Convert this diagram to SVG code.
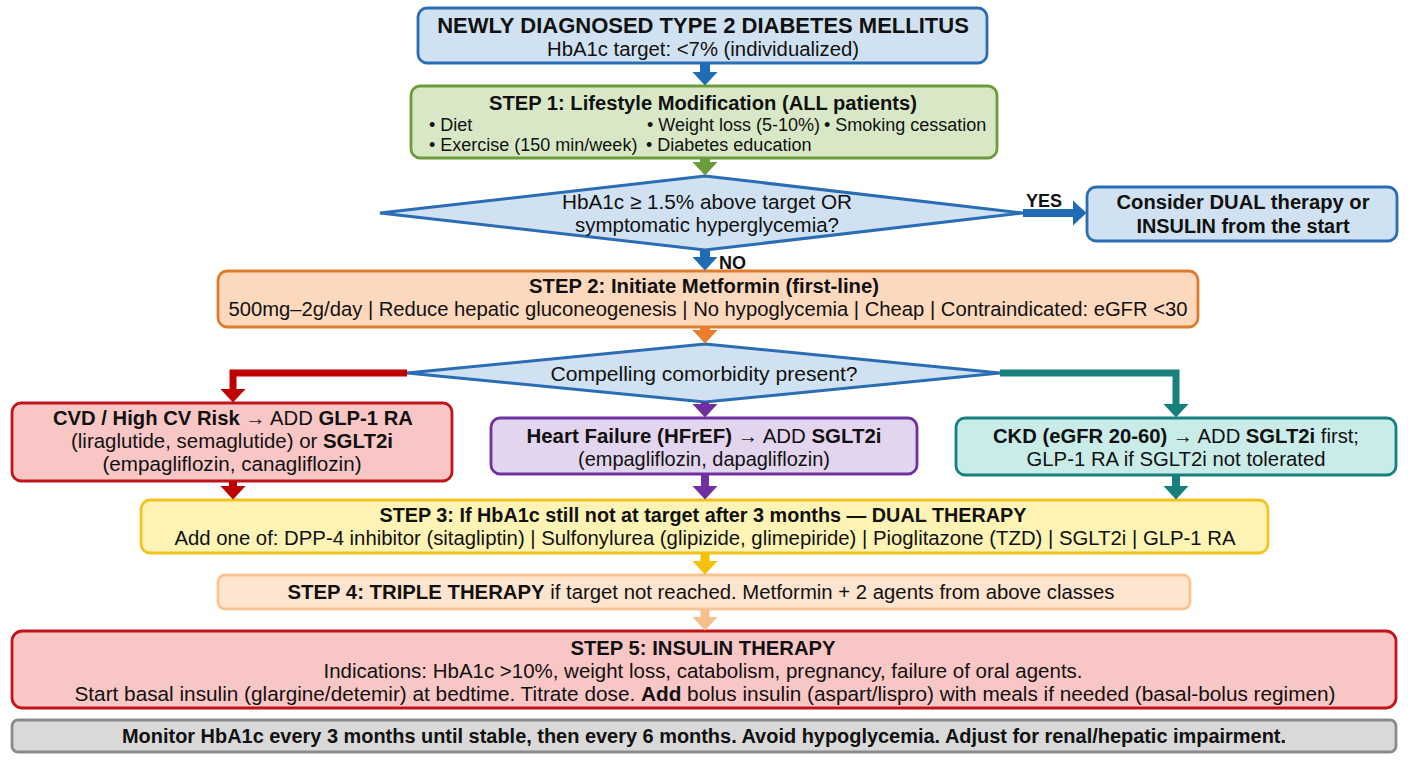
<svg xmlns="http://www.w3.org/2000/svg" width="1408" height="768" viewBox="0 0 1408 768">
<style>
text{font-family:"Liberation Sans",Arial,sans-serif;fill:#111;text-anchor:middle;font-size:20.5px}
.b{font-weight:bold}
.t{font-weight:bold;font-size:20px}
.s{font-size:18px}
.l{text-anchor:start}
.box{stroke-width:2.8}
.blue{fill:#d0e1f2;stroke:#2a6db5}
.green{fill:#d8e8c6;stroke:#6b9b3a}
.orange{fill:#fcd8bd;stroke:#e07a2c}
.red{fill:#f9c6c6;stroke:#c0141b}
.purple{fill:#e3d5ee;stroke:#7030a0}
.teal{fill:#c9ece8;stroke:#17807d}
.yellow{fill:#fdf3b5;stroke:#f2c31c}
.peach{fill:#fde4cf;stroke:#f6c596}
.grey{fill:#d9d9d9;stroke:#8a8a8a}
</style>
<defs>
<marker id="mBlue" markerUnits="userSpaceOnUse" markerWidth="14" markerHeight="26" viewBox="0 0 14 26" refX="0.5" refY="13" orient="auto"><path d="M0,0 L14,13 L0,26 z" fill="#1f6cb5"/></marker>
<marker id="mGreen" markerUnits="userSpaceOnUse" markerWidth="14" markerHeight="26" viewBox="0 0 14 26" refX="0.5" refY="13" orient="auto"><path d="M0,0 L14,13 L0,26 z" fill="#6b9b3a"/></marker>
<marker id="mOrange" markerUnits="userSpaceOnUse" markerWidth="14" markerHeight="26" viewBox="0 0 14 26" refX="0.5" refY="13" orient="auto"><path d="M0,0 L14,13 L0,26 z" fill="#ec7d2c"/></marker>
<marker id="mRed" markerUnits="userSpaceOnUse" markerWidth="14" markerHeight="26" viewBox="0 0 14 26" refX="0.5" refY="13" orient="auto"><path d="M0,0 L14,13 L0,26 z" fill="#c00000"/></marker>
<marker id="mPurple" markerUnits="userSpaceOnUse" markerWidth="14" markerHeight="26" viewBox="0 0 14 26" refX="0.5" refY="13" orient="auto"><path d="M0,0 L14,13 L0,26 z" fill="#7030a0"/></marker>
<marker id="mTeal" markerUnits="userSpaceOnUse" markerWidth="14" markerHeight="26" viewBox="0 0 14 26" refX="0.5" refY="13" orient="auto"><path d="M0,0 L14,13 L0,26 z" fill="#17807d"/></marker>
<marker id="mYellow" markerUnits="userSpaceOnUse" markerWidth="14" markerHeight="26" viewBox="0 0 14 26" refX="0.5" refY="13" orient="auto"><path d="M0,0 L14,13 L0,26 z" fill="#f5c000"/></marker>
<marker id="mPeach" markerUnits="userSpaceOnUse" markerWidth="14" markerHeight="26" viewBox="0 0 14 26" refX="0.5" refY="13" orient="auto"><path d="M0,0 L14,13 L0,26 z" fill="#f7c08a"/></marker>
</defs>
<rect width="1408" height="768" fill="#ffffff"/>

<g id="start">
<rect class="box blue" x="418" y="8" width="569" height="55" rx="9"/>
<text class="b" x="703" y="33" style="font-size:22px">NEWLY DIAGNOSED TYPE 2 DIABETES MELLITUS</text>
<text x="703" y="56" style="font-size:19.5px" textLength="312" lengthAdjust="spacingAndGlyphs">HbA1c target: &lt;7% (individualized)</text>
</g>

<g id="step1">
<rect class="box green" x="411" y="86" width="586" height="72" rx="9"/>
<text class="t" x="703" y="110" textLength="428" lengthAdjust="spacingAndGlyphs">STEP 1: Lifestyle Modification (ALL patients)</text>
<text class="l s" x="429" y="131">• Diet</text>
<text class="l s" x="647" y="131">• Weight loss (5-10%)</text>
<text class="l s" x="824" y="131">• Smoking cessation</text>
<text class="l s" x="429" y="151">• Exercise (150 min/week)</text>
<text class="l s" x="646" y="151">• Diabetes education</text>
</g>

<g id="decision1">
<polygon class="blue" stroke-width="3" points="705,176 1023,213 705,250 380,213"/>
<text x="707" y="209" textLength="290" lengthAdjust="spacingAndGlyphs">HbA1c ≥ 1.5% above target OR</text>
<text x="707" y="232" textLength="264" lengthAdjust="spacingAndGlyphs">symptomatic hyperglycemia?</text>
</g>

<g id="dual-insulin">
<rect class="box blue" x="1087" y="187" width="310" height="54" rx="9"/>
<text class="t" x="1243" y="209" textLength="253" lengthAdjust="spacingAndGlyphs">Consider DUAL therapy or</text>
<text class="t" x="1243" y="233" textLength="213" lengthAdjust="spacingAndGlyphs">INSULIN from the start</text>
</g>

<g id="step2">
<rect class="box orange" x="218" y="271" width="980" height="56" rx="9"/>
<text class="t" x="704" y="293" textLength="350" lengthAdjust="spacingAndGlyphs">STEP 2: Initiate Metformin (first-line)</text>
<text x="708" y="316" textLength="959" lengthAdjust="spacingAndGlyphs">500mg–2g/day | Reduce hepatic gluconeogenesis | No hypoglycemia | Cheap | Contraindicated: eGFR &lt;30</text>
</g>

<g id="decision2">
<polygon class="blue" stroke-width="3" points="705,344 1000,373 705,402 407,373"/>
<text x="704" y="381" textLength="307" lengthAdjust="spacingAndGlyphs">Compelling comorbidity present?</text>
</g>

<g id="cvd">
<rect class="box red" x="12" y="403" width="440" height="78" rx="9"/>
<text x="233" y="425" textLength="360" lengthAdjust="spacingAndGlyphs"><tspan class="b">CVD / High CV Risk</tspan> → ADD <tspan class="b">GLP-1 RA</tspan></text>
<text x="232" y="448" textLength="322" lengthAdjust="spacingAndGlyphs">(liraglutide, semaglutide) or <tspan class="b">SGLT2i</tspan></text>
<text x="232" y="471" textLength="259" lengthAdjust="spacingAndGlyphs">(empagliflozin, canagliflozin)</text>
</g>

<g id="hf">
<rect class="box purple" x="491" y="418" width="426" height="56" rx="9"/>
<text x="704" y="443" textLength="355" lengthAdjust="spacingAndGlyphs"><tspan class="b">Heart Failure (HFrEF)</tspan> → ADD <tspan class="b">SGLT2i</tspan></text>
<text x="704" y="466" textLength="252" lengthAdjust="spacingAndGlyphs">(empagliflozin, dapagliflozin)</text>
</g>

<g id="ckd">
<rect class="box teal" x="956" y="418" width="440" height="57" rx="9"/>
<text x="1176" y="443" textLength="366" lengthAdjust="spacingAndGlyphs"><tspan class="b">CKD (eGFR 20-60)</tspan> → ADD <tspan class="b">SGLT2i</tspan> first;</text>
<text x="1176" y="466" textLength="299" lengthAdjust="spacingAndGlyphs">GLP-1 RA if SGLT2i not tolerated</text>
</g>

<g id="step3">
<rect class="box yellow" x="141" y="500" width="1127" height="53" rx="9"/>
<text class="t" x="703" y="522" textLength="647" lengthAdjust="spacingAndGlyphs">STEP 3: If HbA1c still not at target after 3 months — DUAL THERAPY</text>
<text x="705" y="545" textLength="1061" lengthAdjust="spacingAndGlyphs">Add one of: DPP-4 inhibitor (sitagliptin) | Sulfonylurea (glipizide, glimepiride) | Pioglitazone (TZD) | SGLT2i | GLP-1 RA</text>
</g>

<g id="step4">
<rect class="box peach" x="218" y="575" width="972" height="34" rx="7"/>
<text x="701" y="599" textLength="827" lengthAdjust="spacingAndGlyphs"><tspan class="b">STEP 4: TRIPLE THERAPY</tspan> if target not reached. Metformin + 2 agents from above classes</text>
</g>

<g id="step5">
<rect class="box red" x="12" y="631" width="1384" height="77" rx="10"/>
<text class="t" x="703" y="655" textLength="265" lengthAdjust="spacingAndGlyphs">STEP 5: INSULIN THERAPY</text>
<text x="703" y="678" textLength="759" lengthAdjust="spacingAndGlyphs">Indications: HbA1c &gt;10%, weight loss, catabolism, pregnancy, failure of oral agents.</text>
<text x="705" y="701" textLength="1261" lengthAdjust="spacingAndGlyphs">Start basal insulin (glargine/detemir) at bedtime. Titrate dose. <tspan class="b">Add</tspan> bolus insulin (aspart/lispro) with meals if needed (basal-bolus regimen)</text>
</g>

<g id="monitor">
<rect class="box grey" x="12" y="720" width="1384" height="32" rx="6"/>
<text class="t" x="704" y="743" textLength="1164" lengthAdjust="spacingAndGlyphs">Monitor HbA1c every 3 months until stable, then every 6 months. Avoid hypoglycemia. Adjust for renal/hepatic impairment.</text>
</g>

<g id="connectors" fill="none">
<path d="M705,63 V72" stroke="#1f6cb5" stroke-width="10" marker-end="url(#mBlue)"/>
<path d="M705,158 V162" stroke="#6b9b3a" stroke-width="10" marker-end="url(#mGreen)"/>
<path d="M1023,213 H1073" stroke="#1f6cb5" stroke-width="8" marker-end="url(#mBlue)"/>
<text class="b" x="1044" y="207" style="font-size:18px">YES</text>
<path d="M705,250 V257" stroke="#1f6cb5" stroke-width="10" marker-end="url(#mBlue)"/>
<text class="b l" x="719" y="269" style="font-size:18px">NO</text>
<path d="M705,327 V330" stroke="#ec7d2c" stroke-width="10" marker-end="url(#mOrange)"/>
<path d="M407,373 H233 V389" stroke="#c00000" stroke-width="7" marker-end="url(#mRed)"/>
<path d="M705,402 V404" stroke="#7030a0" stroke-width="8" marker-end="url(#mPurple)"/>
<path d="M1000,373 H1176 V404" stroke="#17807d" stroke-width="7" marker-end="url(#mTeal)"/>
<path d="M233,481 V486" stroke="#c00000" stroke-width="8" marker-end="url(#mRed)"/>
<path d="M705,474 V486" stroke="#7030a0" stroke-width="8" marker-end="url(#mPurple)"/>
<path d="M1176,475 V486" stroke="#17807d" stroke-width="8" marker-end="url(#mTeal)"/>
<path d="M705,553 V561" stroke="#f5c000" stroke-width="9" marker-end="url(#mYellow)"/>
<path d="M705,609 V617" stroke="#f7c08a" stroke-width="9" marker-end="url(#mPeach)"/>
</g>
</svg>
